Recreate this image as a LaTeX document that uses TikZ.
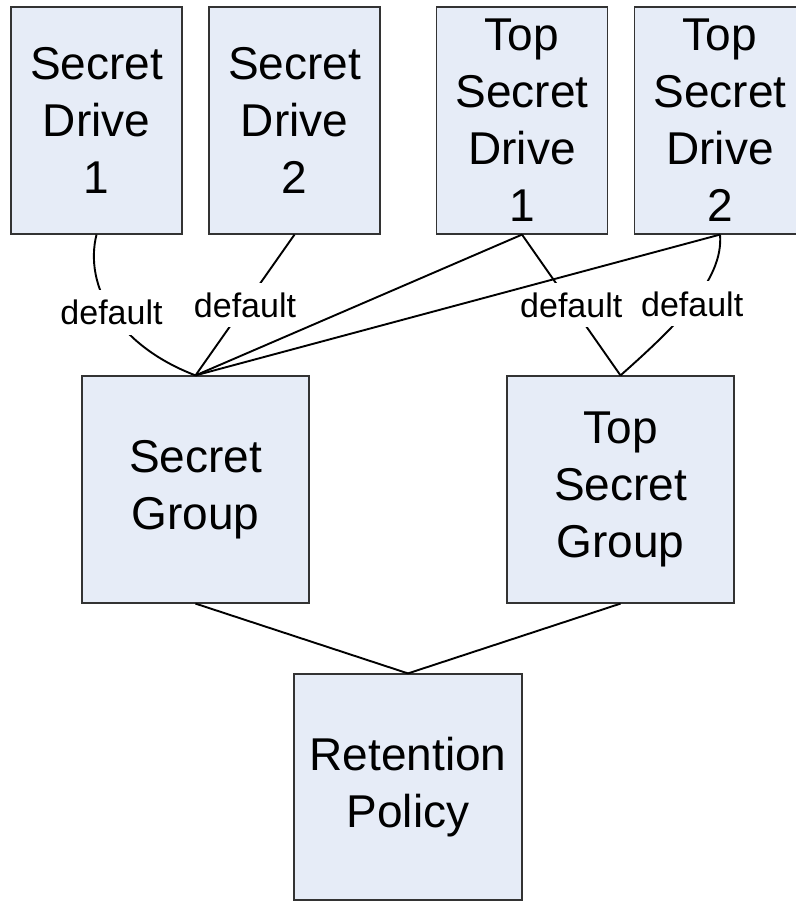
\documentclass[tikz,border=0pt]{standalone}
\usepackage{fontspec}
\setmainfont{Liberation Sans}
\definecolor{boxblue}{HTML}{E6ECF7}
\begin{document}
\begin{tikzpicture}[x=1pt,y=-1pt,
  box/.style={draw=black!80, line width=1.2pt, fill=boxblue, inner sep=0pt,
    align=center, font=\fontsize{46}{57}\selectfont},
  drivebox/.style={box, minimum width=171pt, minimum height=227pt},
  groupbox/.style={box, minimum width=227pt, minimum height=227pt},
  conn/.style={line width=1.9pt, black},
  lbl/.style={fill=white, inner xsep=2pt, inner ysep=10pt,
    font=\fontsize{34}{40}\selectfont}]
\useasboundingbox (0,0) rectangle (795,901);

\node[drivebox] (sd1) at (96.5,120.5) {Secret\\Drive\\1};
\node[drivebox] (sd2) at (294.5,120.5) {Secret\\Drive\\2};
\node[drivebox] (tsd1) at (522,120.5) {Top\\Secret\\Drive\\1};
\node[drivebox] (tsd2) at (720,120.5) {Top\\Secret\\Drive\\2};
\node[groupbox] (sg) at (195.5,489.5) {Secret\\Group};
\node[groupbox] (tsg) at (620.5,489.5) {Top\\Secret\\Group};
\node[groupbox, minimum width=228pt, minimum height=226pt] (rp) at (408,787) {Retention\\Policy};

% labelled connectors
\draw[conn] (sd1.south) .. controls (84,285) and (116,345) .. node[lbl] {default} (sg.north);
\draw[conn] (sd2.south) -- node[lbl] {default} (sg.north);
\draw[conn] (tsd1.south) -- node[lbl] {default} (tsg.north);
\draw[conn] (tsd2.south) .. controls (724,280) and (675,327) .. node[lbl] {default} (tsg.north);

% unlabelled connectors
\draw[conn] (tsd1.south) -- (sg.north);
\draw[conn] (tsd2.south) -- (sg.north);
\draw[conn] (sg.south) -- (rp.north);
\draw[conn] (tsg.south) -- (rp.north);
\end{tikzpicture}
\end{document}
